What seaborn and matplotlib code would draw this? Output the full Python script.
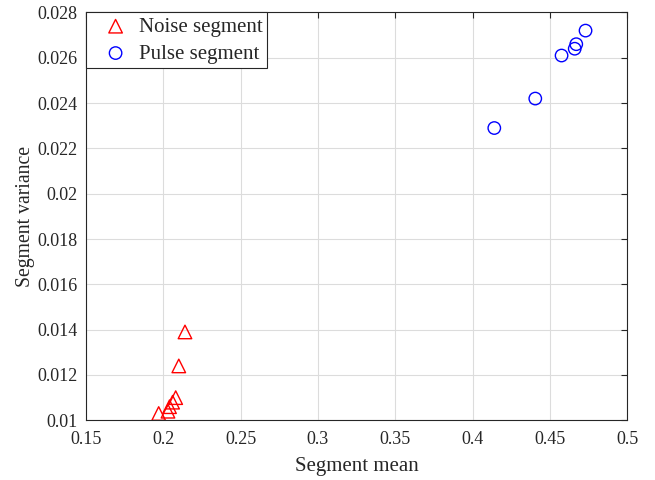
import matplotlib
matplotlib.use("Agg")
import matplotlib.pyplot as plt
import seaborn as sns

noise_mean = [0.214, 0.210, 0.208, 0.206, 0.204, 0.203, 0.197]
noise_var = [0.0139, 0.0124, 0.0110, 0.0108, 0.0106, 0.0104, 0.0103]
pulse_mean = [0.473, 0.467, 0.466, 0.4575, 0.4405, 0.414]
pulse_var = [0.0272, 0.0266, 0.0264, 0.0261, 0.0242, 0.0229]
x_ticks = [0.15, 0.2, 0.25, 0.3, 0.35, 0.4, 0.45, 0.5]
x_ticklabels = ['0.15', '0.2', '0.25', '0.3', '0.35', '0.4', '0.45', '0.5']
y_ticks = [0.01, 0.012, 0.014, 0.016, 0.018, 0.02, 0.022, 0.024, 0.026, 0.028]
y_ticklabels = ['0.01', '0.012', '0.014', '0.016', '0.018', '0.02', '0.022', '0.024', '0.026', '0.028']

sns.set_style("white")
plt.rcParams['font.family'] = ['Liberation Serif', 'DejaVu Serif']

fig = plt.figure(figsize=(6.55, 4.8), dpi=100)
ax = fig.add_axes([0.1313, 0.1244, 0.8264, 0.8496])

sns.scatterplot(x=noise_mean, y=noise_var, marker='^', s=95, facecolor='none',
                edgecolor='red', linewidth=1.0, label='Noise segment', ax=ax, zorder=3)
sns.scatterplot(x=pulse_mean, y=pulse_var, marker='o', s=80, facecolor='none',
                edgecolor='blue', linewidth=1.0, label='Pulse segment', ax=ax, zorder=3)

ax.set_xlim(0.15, 0.5)
ax.set_ylim(0.01, 0.028)
ax.set_xticks(x_ticks)
ax.set_xticklabels(x_ticklabels)
ax.set_yticks(y_ticks)
ax.set_yticklabels(y_ticklabels)
ax.grid(True, color='#dcdcdc', linewidth=0.8)
ax.set_axisbelow(True)
ax.tick_params(direction='in', top=True, right=True, labelsize=13, length=4,
               width=0.8, colors='#262626')
ax.tick_params(axis='y', pad=6)
ax.tick_params(axis='x', pad=8)
for sp in ax.spines.values():
    sp.set_visible(True)
    sp.set_color('#262626')
    sp.set_linewidth(0.8)
ax.set_xlabel('Segment mean', fontsize=15, color='#262626', labelpad=6)
ax.set_ylabel('Segment variance', fontsize=14.2, color='#262626', labelpad=2)

leg = ax.legend(loc='upper left', fontsize=15, frameon=True, fancybox=False,
                borderaxespad=0, handletextpad=-0.08, borderpad=0.22, labelspacing=0.35,
                handlelength=2.4)
leg.get_frame().set_edgecolor('#262626')
leg.get_frame().set_linewidth(0.8)
leg.get_frame().set_alpha(1)

fig.savefig('out.png', dpi=100)
